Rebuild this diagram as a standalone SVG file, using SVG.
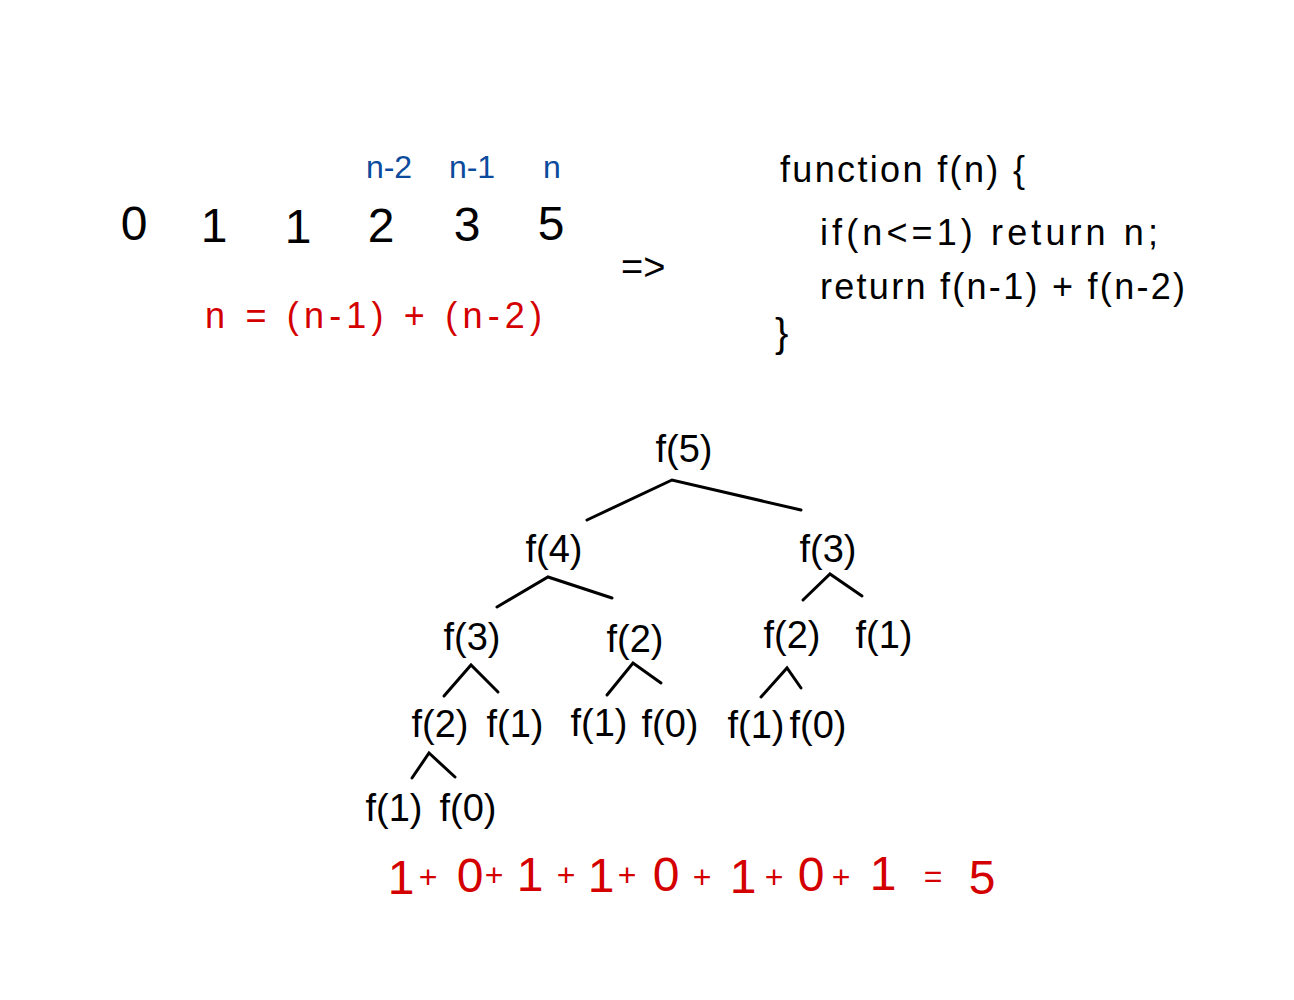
<svg xmlns="http://www.w3.org/2000/svg" width="1294" height="1000" viewBox="0 0 1294 1000">
<style>
text{font-family:"Liberation Sans","DejaVu Sans",sans-serif;fill:#000}
.num{font-size:48px;text-anchor:middle}
.blue{font-size:32px;fill:#0b4a9c;text-anchor:middle}
.red{fill:#d40000}
.code{font-size:36px}
.node{font-size:38px;text-anchor:middle}
.sum{font-size:48px;text-anchor:middle;fill:#d40000}
.sp{font-size:32px;text-anchor:middle;fill:#d40000}
.edge{stroke:#000;stroke-width:3;fill:none;stroke-linecap:round}
</style>
<rect width="1294" height="1000" fill="#fff"/>
<g id="sequence">
<text class="num" x="134" y="240">0</text>
<text class="num" x="214" y="242">1</text>
<text class="num" x="298" y="243">1</text>
<text class="num" x="381" y="242">2</text>
<text class="num" x="467" y="241">3</text>
<text class="num" x="551" y="240">5</text>
</g>
<g id="labels">
<text class="blue" x="389" y="178">n-2</text>
<text class="blue" x="472" y="178">n-1</text>
<text class="blue" x="552" y="178">n</text>
</g>
<g id="formula">
<text class="red" x="205" y="328" font-size="36" textLength="337" lengthAdjust="spacing">n = (n-1) + (n-2)</text>
</g>
<g id="implies">
<text x="621" y="280" font-size="38">=&gt;</text>
</g>
<g id="code">
<text class="code" x="780" y="182" textLength="245" lengthAdjust="spacing">function  f(n) {</text>
<text class="code" x="820" y="245" textLength="338" lengthAdjust="spacing">if(n&lt;=1) return n;</text>
<text class="code" x="820" y="299" textLength="365" lengthAdjust="spacing">return f(n-1) + f(n-2)</text>
<text x="775" y="347" font-size="40">}</text>
</g>
<g id="connectors">
<path class="edge" d="M587,520 L672,480 L801,510"/>
<path class="edge" d="M497,607 L548,577 L612,598"/>
<path class="edge" d="M803,600 L830,574 L862,596"/>
<path class="edge" d="M444,696 L471,665 L498,692"/>
<path class="edge" d="M607,695 L633,663 L661,683"/>
<path class="edge" d="M761,697 L787,668 L801,688"/>
<path class="edge" d="M412,778 L429,753 L455,777"/>
</g>
<g id="n-f5"><text class="node" x="684" y="462">f(5)</text></g>
<g id="n-f4"><text class="node" x="554" y="562">f(4)</text></g>
<g id="n-f3r"><text class="node" x="828" y="562">f(3)</text></g>
<g id="n-f3l"><text class="node" x="472" y="650">f(3)</text></g>
<g id="n-f2m"><text class="node" x="635" y="652">f(2)</text></g>
<g id="n-f2r"><text class="node" x="792" y="648">f(2)</text></g>
<g id="n-f1r"><text class="node" x="884" y="648">f(1)</text></g>
<g id="n-f2a"><text class="node" x="440" y="737">f(2)</text></g>
<g id="n-f1a"><text class="node" x="515" y="737">f(1)</text></g>
<g id="n-f1b"><text class="node" x="599" y="736">f(1)</text></g>
<g id="n-f0b"><text class="node" x="670" y="737">f(0)</text></g>
<g id="n-f1c"><text class="node" x="756" y="738">f(1)</text></g>
<g id="n-f0c"><text class="node" x="818" y="738">f(0)</text></g>
<g id="n-f1d"><text class="node" x="394" y="821">f(1)</text></g>
<g id="n-f0d"><text class="node" x="468" y="821">f(0)</text></g>
<g id="sum">
<text class="sum" x="401" y="894">1</text>
<text class="sp" x="428" y="888">+</text>
<text class="sum" x="470" y="892">0</text>
<text class="sp" x="494" y="886">+</text>
<text class="sum" x="530" y="891" font-size="52">1</text>
<text class="sp" x="566" y="886">+</text>
<text class="sum" x="601" y="892">1</text>
<text class="sp" x="627" y="886">+</text>
<text class="sum" x="666" y="891">0</text>
<text class="sp" x="702" y="888">+</text>
<text class="sum" x="743" y="893">1</text>
<text class="sp" x="774" y="888">+</text>
<text class="sum" x="811" y="891">0</text>
<text class="sp" x="841" y="888">+</text>
<text class="sum" x="883" y="890">1</text>
<text class="sp" x="933" y="887">=</text>
<text class="sum" x="982" y="894">5</text>
</g>
</svg>
